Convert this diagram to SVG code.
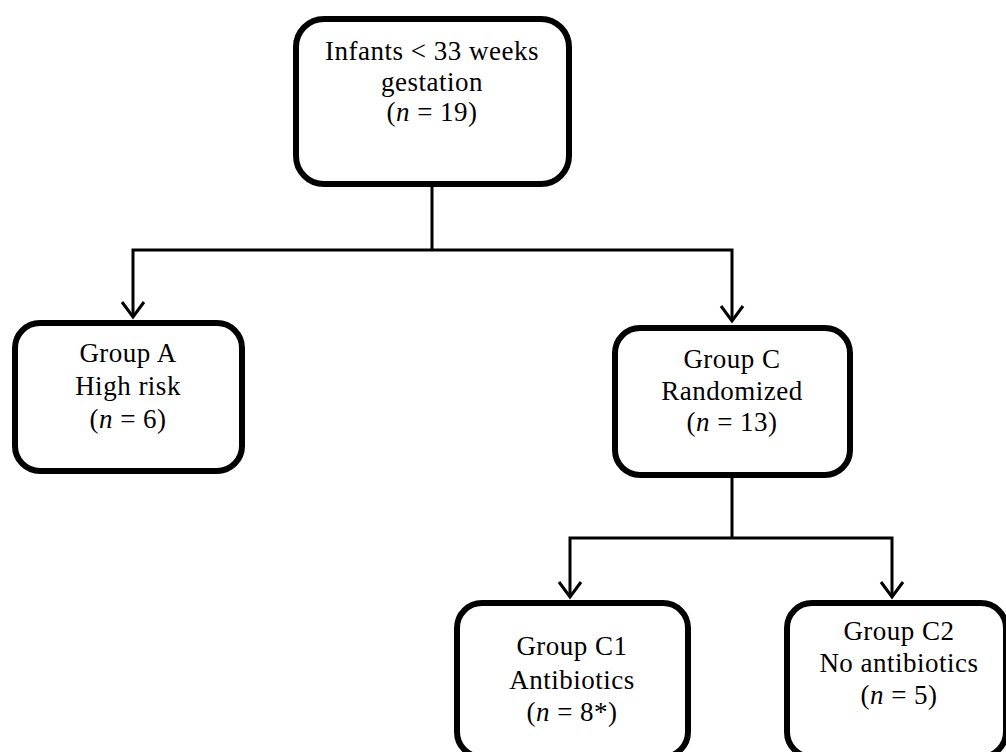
<svg xmlns="http://www.w3.org/2000/svg" width="1006" height="752" viewBox="0 0 1006 752">
  <style>
    .box { fill: #ffffff; stroke: #000000; stroke-width: 6; }
    .t { font-family: "Liberation Serif", "Times New Roman", serif; font-size: 27px; letter-spacing: 0.5px; text-anchor: middle; fill: #000000; }
    .i { font-style: italic; }
    .c { fill: none; stroke: #000000; stroke-width: 3; stroke-linejoin: miter; }
  </style>
  <defs>
    <marker id="arr" markerUnits="userSpaceOnUse" markerWidth="30" markerHeight="30" viewBox="-20 -15 25 30" refX="0" refY="0" orient="auto" overflow="visible">
      <path d="M-15,-11 L0,0 L-15,11" fill="none" stroke="#000000" stroke-width="3" stroke-linejoin="miter"/>
    </marker>
  </defs>
  <rect width="1006" height="752" fill="#ffffff"/>

  <g id="connectors">
    <path class="c" d="M432 187 V250"/>
    <path class="c" d="M432 250 H133 V317" marker-end="url(#arr)"/>
    <path class="c" d="M432 250 H732 V321" marker-end="url(#arr)"/>
    <path class="c" d="M732 478 V538"/>
    <path class="c" d="M732 538 H570 V597" marker-end="url(#arr)"/>
    <path class="c" d="M732 538 H892 V597" marker-end="url(#arr)"/>
  </g>

  <g id="node-infants">
    <rect class="box" x="296" y="19" width="273" height="165" rx="28" ry="28"/>
    <text class="t" x="432" y="60">Infants &lt; 33 weeks</text>
    <text class="t" x="432" y="91">gestation</text>
    <text class="t" x="432" y="121">(<tspan class="i">n</tspan> = 19)</text>
  </g>

  <g id="node-group-a">
    <rect class="box" x="15" y="323" width="227" height="148" rx="25" ry="25"/>
    <text class="t" x="128" y="362">Group A</text>
    <text class="t" x="128" y="395">High risk</text>
    <text class="t" x="128" y="428">(<tspan class="i">n</tspan> = 6)</text>
  </g>

  <g id="node-group-c">
    <rect class="box" x="615" y="328" width="235" height="147" rx="25" ry="25"/>
    <text class="t" x="732" y="368">Group C</text>
    <text class="t" x="732" y="400">Randomized</text>
    <text class="t" x="732" y="431">(<tspan class="i">n</tspan> = 13)</text>
  </g>

  <g id="node-group-c1">
    <rect class="box" x="457" y="603" width="231" height="154" rx="25" ry="25"/>
    <text class="t" x="572" y="655">Group C1</text>
    <text class="t" x="572" y="689">Antibiotics</text>
    <text class="t" x="572" y="721">(<tspan class="i">n</tspan> = 8*)</text>
  </g>

  <g id="node-group-c2">
    <rect class="box" x="787" y="603" width="219" height="154" rx="25" ry="25"/>
    <text class="t" x="899" y="640">Group C2</text>
    <text class="t" x="899" y="672">No antibiotics</text>
    <text class="t" x="899" y="704">(<tspan class="i">n</tspan> = 5)</text>
  </g>
</svg>
